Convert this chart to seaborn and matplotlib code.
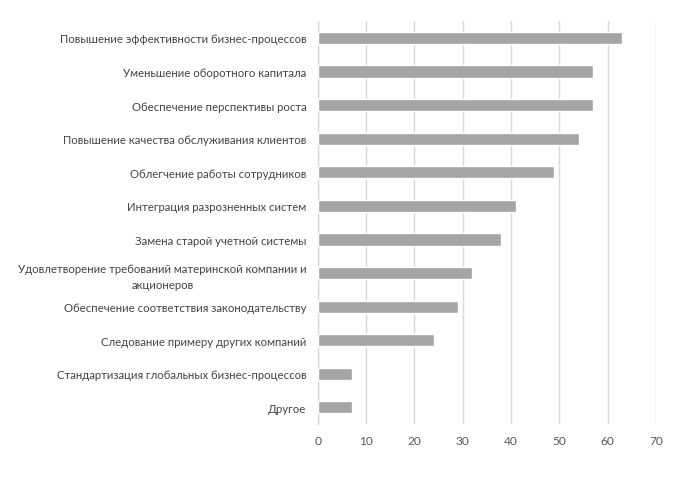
import matplotlib
matplotlib.use("Agg")
import matplotlib.pyplot as plt
import seaborn as sns
import pandas as pd

categories = [
    "Повышение эффективности бизнес-процессов",
    "Уменьшение оборотного капитала",
    "Обеспечение перспективы роста",
    "Повышение качества обслуживания клиентов",
    "Облегчение работы сотрудников",
    "Интеграция разрозненных систем",
    "Замена старой учетной системы",
    "Удовлетворение требований материнской компании и\nакционеров",
    "Обеспечение соответствия законодательству",
    "Следование примеру других компаний",
    "Стандартизация глобальных бизнес-процессов",
    "Другое",
]
values = [63, 57, 57, 54, 49, 41, 38, 32, 29, 24, 7, 7]
x_ticks = [0, 10, 20, 30, 40, 50, 60, 70]

sns.set_theme(style="white")
plt.rcParams['font.family'] = ['Lato', 'DejaVu Sans']

df = pd.DataFrame({"cat": categories, "val": values})

fig = plt.figure(figsize=(7, 4.81), dpi=100)
ax = fig.add_axes([0.454, 0.116, 0.483, 0.838])
sns.barplot(data=df, x="val", y="cat", color="#a5a5a5", width=0.36,
            saturation=1, ax=ax, zorder=3)

ax.set_xlim(0, 70)
ax.set_xticks(x_ticks)
ax.set_xlabel("")
ax.set_ylabel("")
ax.grid(axis="x", color="#d9d9d9", linewidth=1, zorder=0)
for s in ["top", "right", "bottom"]:
    ax.spines[s].set_visible(False)
ax.spines["left"].set_color("#d9d9d9")
ax.spines["left"].set_linewidth(1)
ax.tick_params(axis="both", length=0, colors="#454545", labelsize=8.2)
ax.tick_params(axis="x", labelsize=8.6, pad=8, colors="#595959")
ax.tick_params(axis="y", pad=8)
for lbl in ax.get_yticklabels():
    lbl.set_multialignment("center")
    lbl.set_linespacing(1.5)

fig.savefig("out.png", dpi=100)
